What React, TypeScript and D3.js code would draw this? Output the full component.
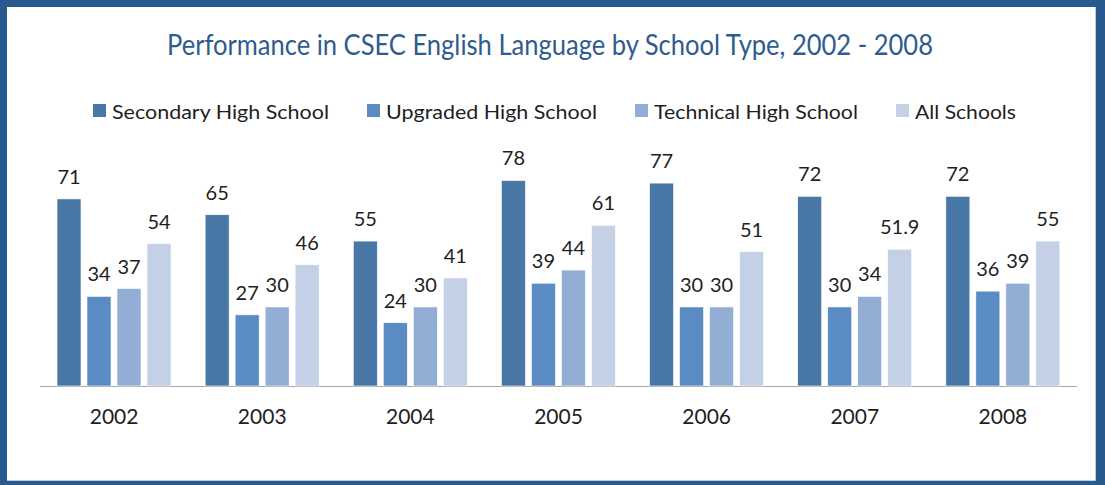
import React from "react";
import * as d3 from "d3";

const years = ["2002", "2003", "2004", "2005", "2006", "2007", "2008"];
const seriesNames = ["Secondary High School", "Upgraded High School", "Technical High School", "All Schools"];
const secondary = [71, 65, 55, 78, 77, 72, 72];
const upgraded = [34, 27, 24, 39, 30, 30, 36];
const technical = [37, 30, 30, 44, 30, 34, 39];
const allSchools = [54, 46, 41, 61, 51, 51.9, 55];
const seriesValues = [secondary, upgraded, technical, allSchools];
const colors = ["#4a78a6", "#5a8bc3", "#92aed5", "#c4d0e6"];

const W = 1105;
const H = 485;
const FONT = "Lato, 'Open Sans', sans-serif";

export default function App() {
  const x = d3.scaleBand<string>().domain(years).range([40, 1077]).paddingInner(0).paddingOuter(0);
  const inner = d3.scaleBand<number>().domain([0, 1, 2, 3]).range([17, 131]).paddingInner(0.2).paddingOuter(0);
  const y = d3.scaleLinear().domain([0, 80]).range([386, 175.2]);

  const legendTextWidths = [217, 211, 204, 101];
  let lx = 93;
  const legendItems = seriesNames.map((name, i) => {
    const item = { name, x: lx, color: colors[i], w: legendTextWidths[i] };
    lx += 13 + 6 + legendTextWidths[i] + 38;
    return item;
  });

  return (
    <svg width={W} height={H} style={{ position: "absolute", left: 0, top: 0, display: "block" }} fontFamily={FONT}>
      <rect x={0} y={0} width={W} height={H} fill="#295a8d" />
      <rect x={7} y={7} width={1088} height={473} fill="#ffffff" />
      <path d="M1095.5,7 V480.5 H7" fill="none" stroke="#c8ccd4" strokeWidth={1} />
      <text x={550} y={55} textAnchor="middle" fontSize={28.5} fill="#2f5c8e" textLength={766} lengthAdjust="spacingAndGlyphs">
        Performance in CSEC English Language by School Type, 2002 - 2008
      </text>
      {legendItems.map((it) => (
        <g key={it.name}>
          <rect x={it.x} y={104} width={13} height={13} fill={it.color} />
          <text x={it.x + 19} y={119} fontSize={19.5} fill="#1e1e1e" textLength={it.w} lengthAdjust="spacingAndGlyphs">
            {it.name}
          </text>
        </g>
      ))}
      <line x1={40} x2={1077} y1={386.5} y2={386.5} stroke="#a6a6a6" strokeWidth={1.2} />
      {years.map((yr, gi) => (
        <g key={yr} transform={`translate(${x(yr)},0)`}>
          {seriesValues.map((vals, si) => {
            const v = vals[gi];
            const bx = inner(si)!;
            const bw = inner.bandwidth();
            return (
              <g key={si}>
                <rect x={bx} y={y(v)} width={bw} height={y(0) - y(v)} fill={colors[si]} stroke="#ffffff" strokeWidth={0.6} />
                <text x={bx + bw / 2} y={y(v) - 15} textAnchor="middle" fontSize={20} fill="#1e1e1e">
                  {String(v)}
                </text>
              </g>
            );
          })}
          <text x={x.bandwidth() / 2} y={424} textAnchor="middle" fontSize={21} fill="#1e1e1e">
            {yr}
          </text>
        </g>
      ))}
    </svg>
  );
}
